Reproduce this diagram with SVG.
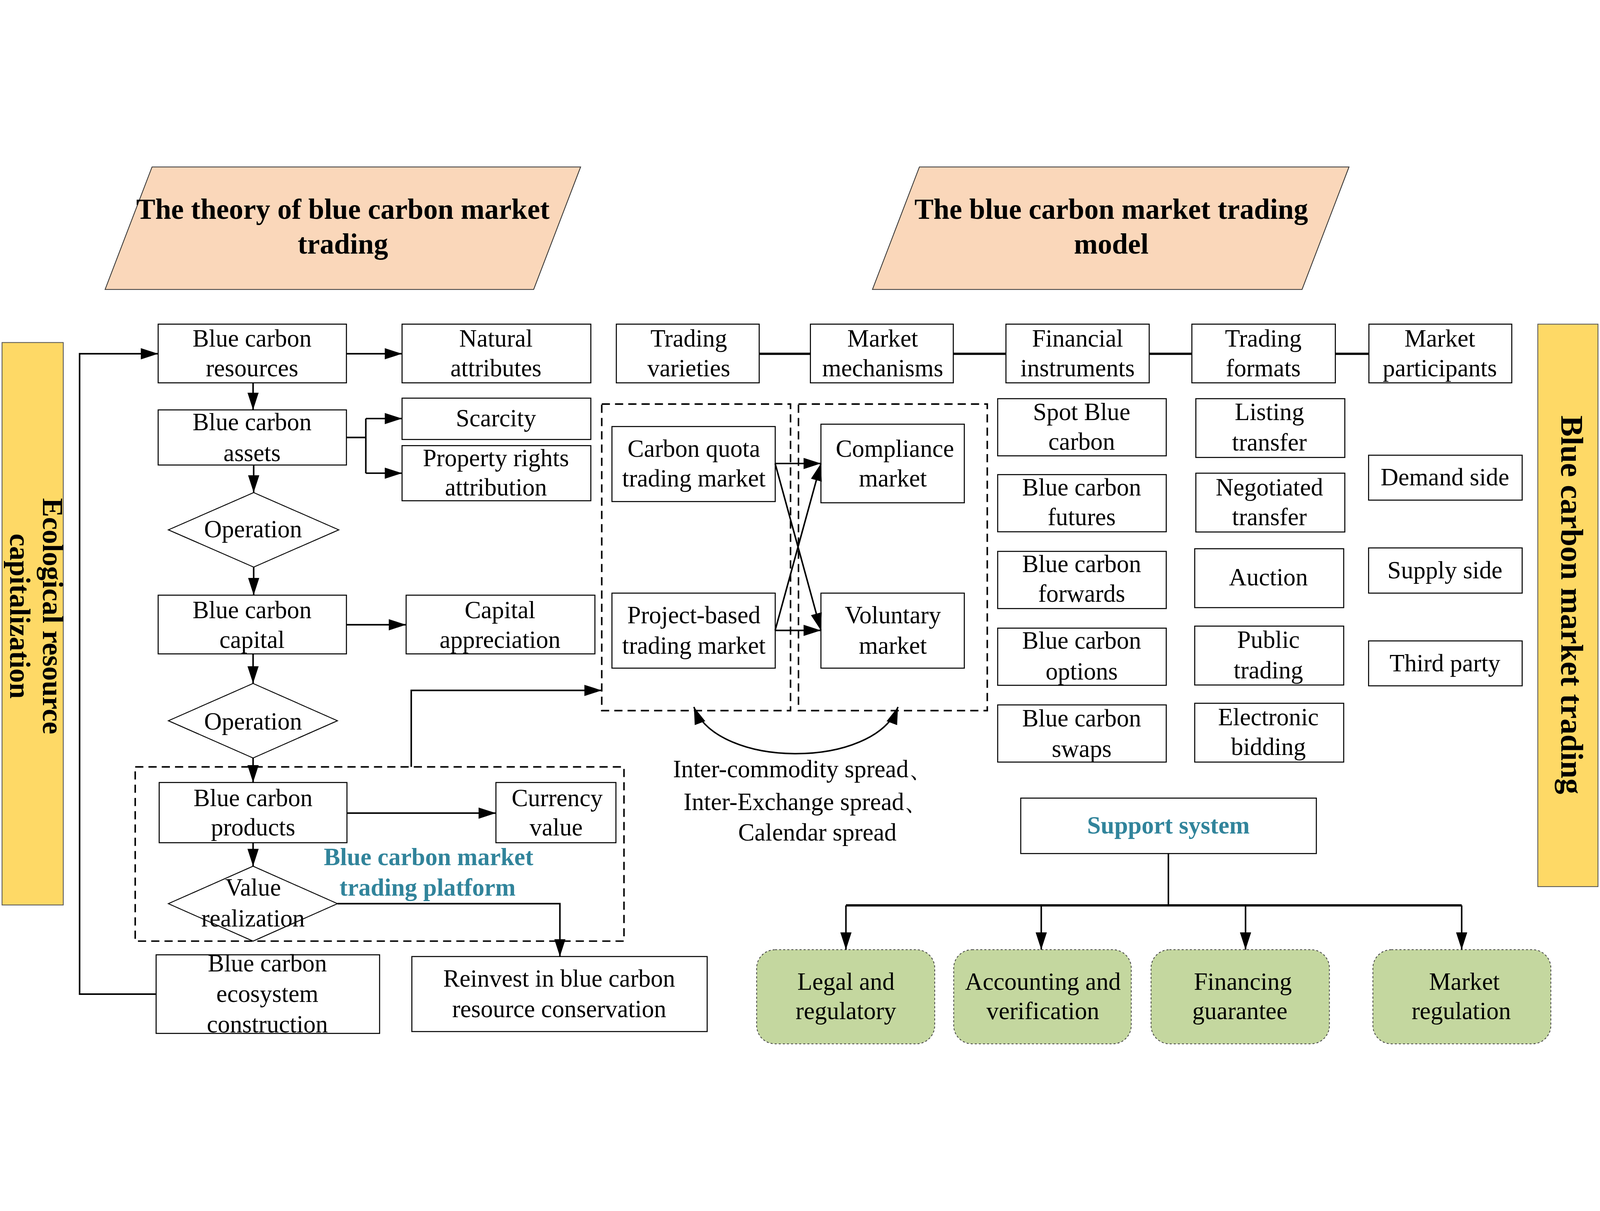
<svg xmlns="http://www.w3.org/2000/svg" width="5629" height="3099" viewBox="0 0 5629 3099">
<defs>
<style>
svg{width:100vw;height:100vh}
.t{font-family:"Liberation Serif","Times New Roman",serif;font-size:24px;text-anchor:middle;fill:#000}
.tb{font-family:"Liberation Serif","Times New Roman",serif;font-size:28px;font-weight:bold;text-anchor:middle;fill:#000}
.teal{font-family:"Liberation Serif","Times New Roman",serif;font-size:24px;font-weight:bold;text-anchor:middle;fill:#31849B}
.box{fill:#fff;stroke:#000;stroke-width:1}
.dia{fill:#fff;stroke:#000;stroke-width:0.9}
.dash{fill:none;stroke:#000;stroke-width:1.5;stroke-dasharray:8 5}
.para{fill:#FAD7BA;stroke:#333;stroke-width:0.8}
.bar{fill:#FED966;stroke:#555;stroke-width:0.8}
.green{fill:#C4D79F;stroke:#444;stroke-width:0.8;stroke-dasharray:2 2}
.ln{fill:none;stroke:#000;stroke-width:1.5}
.thick{fill:none;stroke:#000;stroke-width:2.2}
.arr{marker-end:url(#ah)}
</style>
<marker id="ah" markerUnits="userSpaceOnUse" markerWidth="18" markerHeight="12" refX="17" refY="5.5" orient="auto-start-reverse">
<path d="M0,0 L17,5.5 L0,11 Z" fill="#000"/>
</marker>
</defs>
<rect x="0" y="0" width="5629" height="3099" fill="#fff"/>
<g transform="scale(3.59)">

<g id="title-theory">
<polygon class="para" points="149,2 569,2 523,122 103,122"/>
<text class="tb" x="336" y="53">The theory of blue carbon market</text>
<text class="tb" x="336" y="87">trading</text>
</g>
<g id="title-model">
<polygon class="para" points="901,2 1322,2 1276,122 855,122"/>
<text class="tb" x="1089" y="53">The blue carbon market trading</text>
<text class="tb" x="1089" y="87">model</text>
</g>

<g id="bar-left">
<rect class="bar" x="2" y="174" width="60" height="551"/>
<text class="tb" transform="translate(42,442) rotate(90)">Ecological resource</text>
<text class="tb" transform="translate(10,442) rotate(90)">capitalization</text>
</g>
<g id="bar-right">
<rect class="bar" x="1507" y="156" width="59" height="551"/>
<text class="tb" style="font-size:31px" transform="translate(1530,431) rotate(90)">Blue carbon market trading</text>
</g>

<g id="platform">
<rect class="dash" x="132.5" y="589.7" width="479" height="170.7"/>
<text class="teal" x="420" y="686">Blue carbon market</text>
<text class="teal" x="419" y="716">trading platform</text>
</g>
<g id="group-varieties"><rect class="dash" x="589.7" y="234.3" width="185" height="300.3"/></g>
<g id="group-mechanisms"><rect class="dash" x="782.5" y="234.3" width="185" height="300.3"/></g>

<g id="n-resources"><rect class="box" x="155" y="156" width="184.5" height="57.5"/><text class="t" x="247" y="178">Blue carbon</text><text class="t" x="247" y="207">resources</text></g>
<g id="n-natural"><rect class="box" x="394" y="156" width="185" height="57.5"/><text class="t" x="486" y="178">Natural</text><text class="t" x="486" y="207">attributes</text></g>
<g id="n-assets"><rect class="box" x="155" y="240" width="184.5" height="54"/><text class="t" x="247" y="260">Blue carbon</text><text class="t" x="247" y="290">assets</text></g>
<g id="n-scarcity"><rect class="box" x="394" y="228.5" width="185" height="40.5"/><text class="t" x="486" y="256">Scarcity</text></g>
<g id="n-property"><rect class="box" x="394" y="275" width="185" height="54"/><text class="t" x="486" y="295">Property rights</text><text class="t" x="486" y="324">attribution</text></g>
<g id="n-operation1"><polygon class="dia" points="248.6,321 332,357.5 248.6,394 165,357.5"/><text class="t" x="248" y="365">Operation</text></g>
<g id="n-capital"><rect class="box" x="155" y="421.5" width="184.5" height="57.5"/><text class="t" x="247" y="444">Blue carbon</text><text class="t" x="247" y="473">capital</text></g>
<g id="n-appreciation"><rect class="box" x="398" y="421.5" width="185" height="57.5"/><text class="t" x="490" y="444">Capital</text><text class="t" x="490" y="473">appreciation</text></g>
<g id="n-operation2"><polygon class="dia" points="248,508 330.7,544.5 248,581 165,544.5"/><text class="t" x="248" y="553">Operation</text></g>
<g id="n-products"><rect class="box" x="156" y="605" width="184" height="59"/><text class="t" x="248" y="628">Blue carbon</text><text class="t" x="248" y="657">products</text></g>
<g id="n-currency"><rect class="box" x="486" y="605" width="117.6" height="59"/><text class="t" x="546" y="628">Currency</text><text class="t" x="545" y="657">value</text></g>
<g id="n-value"><polygon class="dia" points="248,687 330.7,723.7 248,760.4 165,723.7"/><text class="t" x="248" y="716">Value</text><text class="t" x="248" y="746">realization</text></g>
<g id="n-ecosystem"><rect class="box" x="153" y="773.8" width="219" height="77"/><text class="t" x="262" y="790">Blue carbon</text><text class="t" x="262" y="820">ecosystem</text><text class="t" x="262" y="850">construction</text></g>
<g id="n-reinvest"><rect class="box" x="403.6" y="775.5" width="289.4" height="73.5"/><text class="t" x="548" y="805">Reinvest in blue carbon</text><text class="t" x="548" y="835">resource conservation</text></g>

<g id="n-varieties"><rect class="box" x="604" y="156" width="140" height="57.5"/><text class="t" x="675" y="178">Trading</text><text class="t" x="675" y="207">varieties</text></g>
<g id="n-mechanisms"><rect class="box" x="794.2" y="156" width="140" height="57.5"/><text class="t" x="865" y="178">Market</text><text class="t" x="865" y="207">mechanisms</text></g>
<g id="n-financial"><rect class="box" x="985.8" y="156" width="140.4" height="57.5"/><text class="t" x="1056" y="178">Financial</text><text class="t" x="1056" y="207">instruments</text></g>
<g id="n-formats"><rect class="box" x="1168" y="156" width="140.6" height="57.5"/><text class="t" x="1238" y="178">Trading</text><text class="t" x="1238" y="207">formats</text></g>
<g id="n-participants"><rect class="box" x="1341.5" y="156" width="140" height="57.5"/><text class="t" x="1411" y="178">Market</text><text class="t" x="1411" y="207">participants</text></g>

<g id="n-quota"><rect class="box" x="599.7" y="256.3" width="160" height="73.5"/><text class="t" x="680" y="286">Carbon quota</text><text class="t" x="680" y="315">trading market</text></g>
<g id="n-project"><rect class="box" x="599.7" y="419.5" width="160" height="73.5"/><text class="t" x="680" y="449">Project-based</text><text class="t" x="680" y="479">trading market</text></g>
<g id="n-compliance"><rect class="box" x="804.5" y="254" width="140.5" height="77"/><text class="t" x="877" y="286">Compliance</text><text class="t" x="875" y="315">market</text></g>
<g id="n-voluntary"><rect class="box" x="804.5" y="419.5" width="140.5" height="73.5"/><text class="t" x="875" y="449">Voluntary</text><text class="t" x="875" y="479">market</text></g>

<g id="n-spot"><rect class="box" x="977.7" y="229" width="165.2" height="56"/><text class="t" x="1060" y="250">Spot Blue</text><text class="t" x="1060" y="279">carbon</text></g>
<g id="n-futures"><rect class="box" x="977.7" y="303.4" width="165.2" height="56"/><text class="t" x="1060" y="324">Blue carbon</text><text class="t" x="1060" y="353">futures</text></g>
<g id="n-forwards"><rect class="box" x="977.7" y="378.6" width="165.2" height="56"/><text class="t" x="1060" y="399">Blue carbon</text><text class="t" x="1060" y="428">forwards</text></g>
<g id="n-options"><rect class="box" x="977.7" y="453.8" width="165.2" height="56"/><text class="t" x="1060" y="474">Blue carbon</text><text class="t" x="1060" y="504">options</text></g>
<g id="n-swaps"><rect class="box" x="977.7" y="529" width="165.2" height="56"/><text class="t" x="1060" y="550">Blue carbon</text><text class="t" x="1060" y="580">swaps</text></g>

<g id="n-listing"><rect class="box" x="1171.9" y="229" width="146" height="57.6"/><text class="t" x="1244" y="250">Listing</text><text class="t" x="1244" y="280">transfer</text></g>
<g id="n-negotiated"><rect class="box" x="1171.9" y="302" width="146" height="57.6"/><text class="t" x="1244" y="324">Negotiated</text><text class="t" x="1244" y="353">transfer</text></g>
<g id="n-auction"><rect class="box" x="1170.8" y="376" width="146" height="57.7"/><text class="t" x="1243" y="412">Auction</text></g>
<g id="n-public"><rect class="box" x="1170.8" y="451.8" width="146" height="57.7"/><text class="t" x="1243" y="473">Public</text><text class="t" x="1243" y="503">trading</text></g>
<g id="n-electronic"><rect class="box" x="1170.8" y="527.4" width="146" height="57.6"/><text class="t" x="1243" y="549">Electronic</text><text class="t" x="1243" y="578">bidding</text></g>

<g id="n-demand"><rect class="box" x="1341.2" y="284.4" width="150.5" height="44"/><text class="t" x="1416" y="314">Demand side</text></g>
<g id="n-supply"><rect class="box" x="1341.2" y="375.2" width="150.5" height="44.3"/><text class="t" x="1416" y="405">Supply side</text></g>
<g id="n-third"><rect class="box" x="1341.2" y="466.3" width="150.5" height="44"/><text class="t" x="1416" y="496">Third party</text></g>

<g id="spread-label">
<text class="t" x="787" y="600">Inter-commodity spread、</text>
<text class="t" x="790" y="632">Inter-Exchange spread、</text>
<text class="t" x="801" y="662">Calendar spread</text>
</g>

<g id="n-support"><rect class="box" x="1000.3" y="620.3" width="289.7" height="54.3"/><text class="teal" x="1145" y="655">Support system</text></g>
<g id="n-legal"><rect class="green" x="741.5" y="768.8" width="174.5" height="92.2" rx="18"/><text class="t" x="829" y="808">Legal and</text><text class="t" x="829" y="837">regulatory</text></g>
<g id="n-accounting"><rect class="green" x="934.6" y="768.8" width="174" height="92.2" rx="18"/><text class="t" x="1022" y="808">Accounting and</text><text class="t" x="1022" y="837">verification</text></g>
<g id="n-financing"><rect class="green" x="1128" y="768.8" width="174.8" height="92.2" rx="18"/><text class="t" x="1218" y="808">Financing</text><text class="t" x="1215" y="837">guarantee</text></g>
<g id="n-regulation"><rect class="green" x="1345.4" y="768.8" width="174.4" height="92.2" rx="18"/><text class="t" x="1435" y="808">Market</text><text class="t" x="1432" y="837">regulation</text></g>

<g id="connectors">
<path class="ln arr" d="M153,812.3 H78 V185 H155"/>
<path class="ln arr" d="M339.5,185 H394"/>
<path class="ln arr" d="M248,213.5 V240"/>
<path class="ln" d="M339.5,267 H358.5 M358.5,248.5 V302"/>
<path class="ln arr" d="M358.5,248.5 H394"/>
<path class="ln arr" d="M358.5,302 H394"/>
<path class="ln arr" d="M248.6,294 V321"/>
<path class="ln arr" d="M248.6,394 V421.5"/>
<path class="ln arr" d="M339.5,450.5 H398"/>
<path class="ln arr" d="M248,479 V508"/>
<path class="ln arr" d="M248,581 V605"/>
<path class="ln arr" d="M340,635 H486"/>
<path class="ln arr" d="M248,664 V687"/>
<path class="ln arr" d="M330.7,723.7 H548.7 V775.5"/>
<path class="ln arr" d="M403,589.7 V514.8 H589.7"/>
<path class="ln arr" d="M759.6,292.5 H804.5"/>
<path class="ln arr" d="M759.6,292.5 L804.5,456"/>
<path class="ln arr" d="M759.6,456 H804.5"/>
<path class="ln arr" d="M759.6,456 L804.5,292.5"/>
<path class="ln arr" d="M680,531 C703,592 857,592 880,531" style="marker-start:url(#ah)"/>
<path class="thick" d="M744,185 H794.2 M934.3,185 H985.8 M1126.2,185 H1168 M1308.6,185 H1341.5"/>
<path class="ln" d="M1145,674.6 V725.4"/>
<path class="thick" d="M829,725.4 H1432.4"/>
<path class="ln arr" d="M829,725.4 V768.8"/>
<path class="ln arr" d="M1020.4,725.4 V768.8"/>
<path class="ln arr" d="M1220.6,725.4 V768.8"/>
<path class="ln arr" d="M1432.4,725.4 V768.8"/>
</g>
</g>
</svg>
